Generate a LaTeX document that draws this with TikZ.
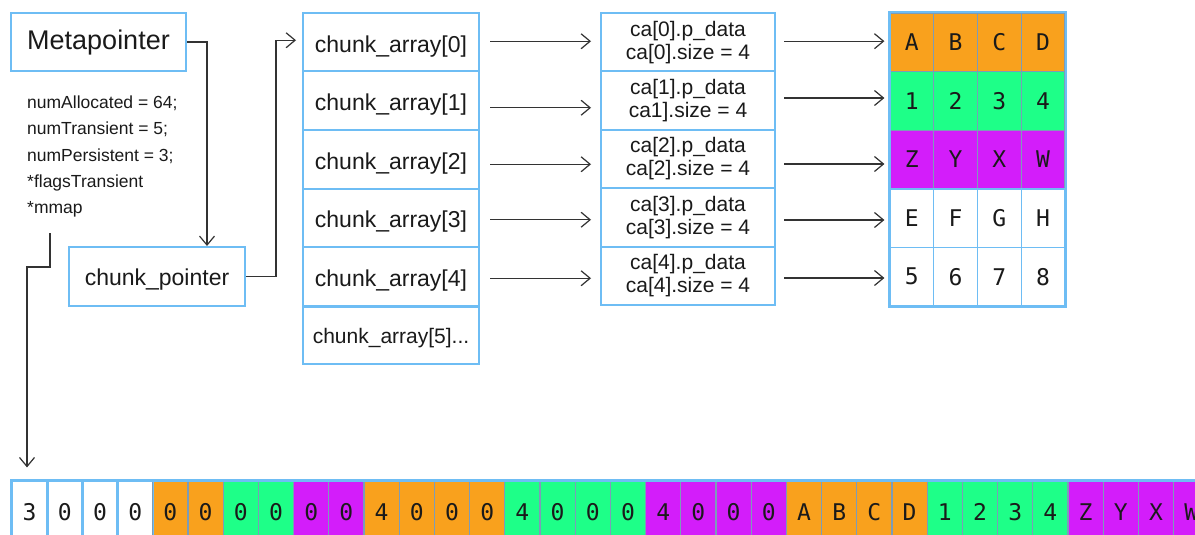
\documentclass[tikz,border=0pt]{standalone}
\usepackage{fontspec}
\setmainfont{Liberation Sans}
\newfontfamily\gridfont{DejaVu Sans Mono}
\usetikzlibrary{arrows.meta,calc}
\definecolor{edgeblue}{HTML}{6EBDF4}
\definecolor{sepgray}{HTML}{7C9CB8}
\definecolor{cellorange}{HTML}{F9A11D}
\definecolor{cellgreen}{HTML}{1EFF88}
\definecolor{cellpurple}{HTML}{D31DFA}
\definecolor{ink}{HTML}{1A1A1A}
\definecolor{wire}{HTML}{333333}
\newcommand\setfs[2]{\fontsize{#1}{#2}\selectfont}

\begin{document}
\begin{tikzpicture}[x=1pt,y=-1pt,
  box/.style={draw=edgeblue,line width=2pt,fill=white,text=ink,inner sep=0pt},
  conn/.style={draw=wire,line width=1.2pt,
    -{Straight Barb[length=9pt,width=15pt,line width=1.2pt]}},
  info/.style={anchor=base west,inner sep=0pt,text=ink,font=\setfs{17.5}{21}},
  cell/.style={minimum width=#1,minimum height=58.6pt,inner sep=0pt,
    line width=1.2pt,text=ink,font=\gridfont\setfs{23}{27}},
  bit/.style={minimum width=35.2pt,minimum height=62pt,inner sep=0pt,
    line width=1.2pt,text=ink,font=\gridfont\setfs{23}{27}}
]
\clip (0,0) rectangle (1195,535);

% header structure
\node[box,minimum width=175pt,minimum height=58pt,font=\setfs{27}{31},
  text height=20pt,text depth=4pt]
  (meta) at (98.5,42) {Metapointer};
\node[info] (info1) at (27,109) {numAllocated = 64;};
\node[info] (info2) at (27,135) {numTransient = 5;};
\node[info] (info3) at (27,161) {numPersistent = 3;};
\node[info] (info4) at (27,187) {*flagsTransient};
\node[info] (info5) at (27,213) {*mmap};
\coordinate (mm) at (50,233);

\node[box,minimum width=176pt,minimum height=59pt,font=\setfs{23}{27},
  text height=20pt,text depth=3pt]
  (cp) at (157,276.5) {chunk\_pointer};

% chunk array column
\foreach \i in {0,...,4}
  \node[box,minimum width=176pt,minimum height=58.5pt,font=\setfs{23}{27},
    text height=21pt,text depth=1pt]
    (ch\i) at (391,{13+58.5*(\i+0.5)}) {chunk\_array[\i]};
\node[box,minimum width=176pt,minimum height=57pt,font=\setfs{21}{25},
  text height=18pt,text depth=2pt]
  (ch5) at (391,335.5) {chunk\_array[5]...};

% chunk descriptors
\foreach \i/\k in {0/{[0]},1/{1]},2/{[2]},3/{[3]},4/{[4]}}
  \node[box,minimum width=174pt,minimum height=58.4pt,align=center,
    font=\setfs{21}{23}]
    (ca\i) at (688,{13+58.4*(\i+0.5)}) {ca[\i].p\_data\\ca\k.size = 4};

% data chunks
\foreach \r/\fillc/\linec/\labs in {
    0/cellorange/sepgray/{A,B,C,D},
    1/cellgreen/sepgray/{1,2,3,4},
    2/cellpurple/sepgray/{Z,Y,X,W},
    3/white/edgeblue/{E,F,G,H},
    4/white/edgeblue/{5,6,7,8}}
  \foreach \t [count=\c from 0] in \labs
    \node[cell=43.75pt,fill=\fillc,draw=\linec]
      (g-\r-\c) at ({890+43.75*(\c+0.5)},{13+58.6*(\r+0.5)}) {\t};
\draw[edgeblue,line width=2pt] (g-2-0.south west) -- (g-2-3.south east);
\draw[edgeblue,line width=2.2pt] (g-0-0.north west) rectangle (g-4-3.south east);

% memory-mapped strip
\foreach \t/\fillc [count=\i from 0] in {
    3/white,0/white,0/white,0/white,
    0/cellorange,0/cellorange,0/cellgreen,0/cellgreen,0/cellpurple,0/cellpurple,
    4/cellorange,0/cellorange,0/cellorange,0/cellorange,
    4/cellgreen,0/cellgreen,0/cellgreen,0/cellgreen,
    4/cellpurple,0/cellpurple,0/cellpurple,0/cellpurple,
    A/cellorange,B/cellorange,C/cellorange,D/cellorange,
    1/cellgreen,2/cellgreen,3/cellgreen,4/cellgreen,
    Z/cellpurple,Y/cellpurple,X/cellpurple,W/cellpurple}
  \node[bit,fill=\fillc,draw=sepgray] (s\i) at ({29.6+35.2*\i},512) {\t};
\foreach \i in {0,...,3}
  \draw[edgeblue,line width=1.4pt] (s\i.north west) rectangle (s\i.south east);
\draw[edgeblue,line width=2.2pt] (s0.south west) -- (s0.north west) -- (s33.north east);

% connectors
\draw[conn] (meta.east) -| ([xshift=50pt]cp.north);
\draw[conn] (cp.east) -- ++(30,0) |- ([shift={(-6,-2)}]ch0.west);
\draw[conn] (mm) -- ++(0,34) -| ([shift={(-2.6,-13)}]s0.north);

\foreach \i/\da/\db in {0/-1/-1,1/7/-2.6,2/5/5,3/2/2.6,4/2/2.2} {
  \draw[conn] ([shift={(10,\da)}]ch\i.east) coordinate (p)
    -- ([xshift=-9pt]ca\i.west |- p);
  \draw[conn] ([shift={(8,\db)}]ca\i.east) coordinate (q)
    -- ([xshift=-5pt]g-\i-0.west |- q);
}
\end{tikzpicture}
\end{document}
